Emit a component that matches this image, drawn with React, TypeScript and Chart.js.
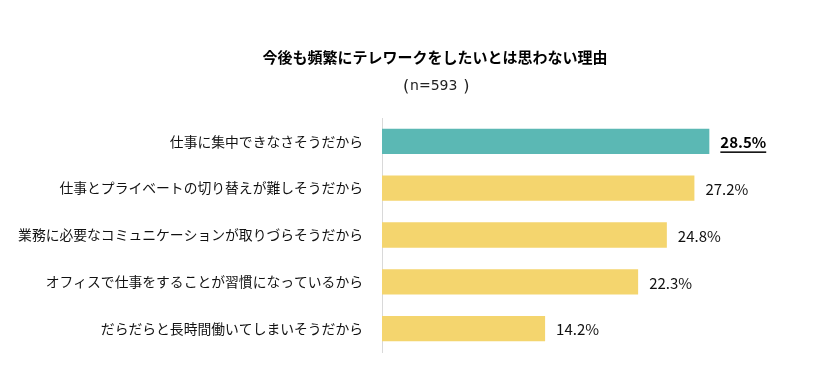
import React, { useEffect, useRef } from "react";
import { Chart, registerables } from "chart.js";

Chart.register(...registerables);

const titleText = "今後も頻繁にテレワークをしたいとは思わない理由";
const subtitleText = "n=593";
const categories = [
  "仕事に集中できなさそうだから",
  "仕事とプライベートの切り替えが難しそうだから",
  "業務に必要なコミュニケーションが取りづらそうだから",
  "オフィスで仕事をすることが習慣になっているから",
  "だらだらと長時間働いてしまいそうだから",
];
const values = [28.5, 27.2, 24.8, 22.3, 14.2];
const highlightIndex = 0;
const highlightColor = "#5BB8B4";
const baseColor = "#F4D56E";

const FONT = "'Noto Sans CJK JP', 'Noto Sans', sans-serif";
const SUBFONT = "'DejaVu Sans', 'Noto Sans', sans-serif";

const labelPlugin = {
  id: "customText",
  afterDraw(chart: any) {
    const ctx = chart.ctx;
    ctx.save();
    // title
    ctx.fillStyle = "#000";
    ctx.textAlign = "center";
    ctx.textBaseline = "middle";
    ctx.font = `bold 15px ${FONT}`;
    ctx.fillText(titleText, 427, 49.5);
    // subtitle with full-width style parentheses
    ctx.font = `14px ${SUBFONT}`;
    ctx.fillStyle = "#222";
    ctx.fillText(subtitleText, 425.7, 78.5);
    ctx.font = `16px ${SUBFONT}`;
    ctx.textAlign = "left";
    ctx.fillText("(", 395, 78.5);
    ctx.textAlign = "right";
    ctx.fillText(")", 461.5, 78.5);

    // value labels
    const meta = chart.getDatasetMeta(0);
    meta.data.forEach((bar: any, i: number) => {
      const txt = values[i].toFixed(1) + "%";
      const x = bar.x + 11;
      const y = bar.y + 1;
      ctx.textAlign = "left";
      ctx.textBaseline = "middle";
      if (i === highlightIndex) {
        ctx.font = `bold 15px ${FONT}`;
        ctx.fillStyle = "#000";
        ctx.fillText(txt, x, y);
        const w = ctx.measureText(txt).width;
        ctx.fillRect(x, y + 9, w, 1.5);
      } else {
        ctx.font = `15px ${FONT}`;
        ctx.fillStyle = "#111";
        ctx.fillText(txt, x, y);
      }
    });
    ctx.restore();
  },
};

export default function App() {
  const ref = useRef<HTMLCanvasElement | null>(null);
  useEffect(() => {
    if (!ref.current) return;
    const chart = new Chart(ref.current, {
      type: "bar",
      data: {
        labels: categories,
        datasets: [
          {
            data: values,
            backgroundColor: values.map((_, i) =>
              i === highlightIndex ? highlightColor : baseColor
            ),
            borderWidth: 0,
            categoryPercentage: 1,
            barPercentage: 0.54,
          },
        ],
      },
      options: {
        indexAxis: "y",
        animation: false,
        responsive: false,
        maintainAspectRatio: false,
        layout: { padding: { top: 110, bottom: 32, left: 0, right: 21 } },
        plugins: {
          legend: { display: false },
          title: { display: false },
          tooltip: { enabled: false },
        },
        scales: {
          x: {
            display: false,
            min: 0,
            max: 35,
          },
          y: {
            afterFit(scale: any) {
              scale.width = 374;
            },
            grid: { display: false, drawTicks: false },
            border: { display: true, color: "#D9D9D9", width: 1 },
            ticks: {
              padding: 19,
              color: "#111",
              font: { family: FONT, size: 13.8 },
            },
          },
        },
      },
      plugins: [labelPlugin],
    } as any);
    return () => chart.destroy();
  }, []);
  return (
    <div style={{ width: 797, height: 376 }}>
      <canvas ref={ref} width={797} height={376} style={{ display: "block" }} />
    </div>
  );
}
